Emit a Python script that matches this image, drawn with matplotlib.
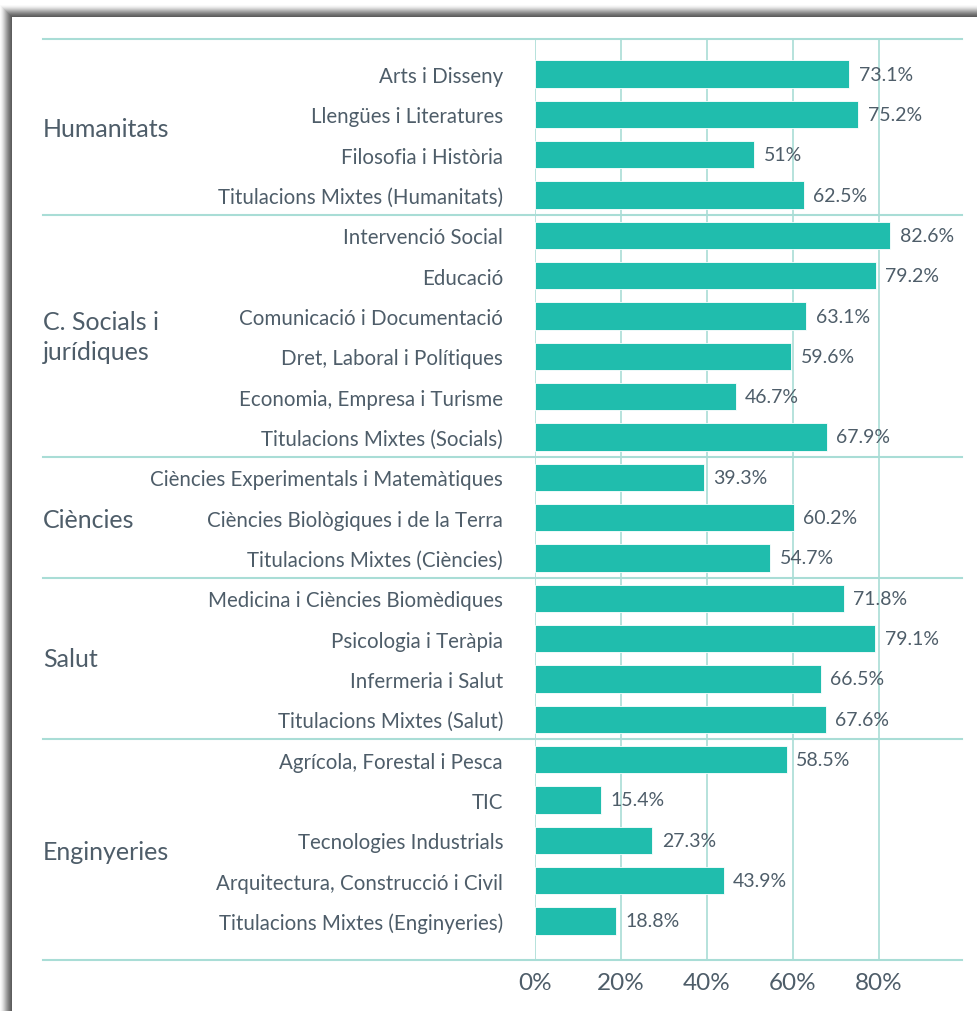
import numpy as np
import matplotlib
matplotlib.use('Agg')
from matplotlib import pyplot as plt
from matplotlib.patches import Rectangle

plt.rcParams['font.family'] = ['Lato', 'DejaVu Sans']

# data
groups = ['Humanitats', 'C. Socials i\njurídiques', 'Ciències', 'Salut', 'Enginyeries']
group_sizes = [4, 6, 3, 4, 5]
categories = [
    'Arts i Disseny', 'Llengües i Literatures', 'Filosofia i Història',
    'Titulacions Mixtes (Humanitats)',
    'Intervenció Social', 'Educació', 'Comunicació i Documentació',
    'Dret, Laboral i Polítiques', 'Economia, Empresa i Turisme',
    'Titulacions Mixtes (Socials)',
    'Ciències Experimentals i Matemàtiques', 'Ciències Biològiques i de la Terra',
    'Titulacions Mixtes (Ciències)',
    'Medicina i Ciències Biomèdiques', 'Psicologia i Teràpia', 'Infermeria i Salut',
    'Titulacions Mixtes (Salut)',
    'Agrícola, Forestal i Pesca', 'TIC', 'Tecnologies Industrials',
    'Arquitectura, Construcció i Civil', 'Titulacions Mixtes (Enginyeries)',
]
values = [73.1, 75.2, 51, 62.5,
          82.6, 79.2, 63.1, 59.6, 46.7, 67.9,
          39.3, 60.2, 54.7,
          71.8, 79.1, 66.5, 67.6,
          58.5, 15.4, 27.3, 43.9, 18.8]
xticks = [0, 20, 40, 60, 80]
xtick_labels = ['0%', '20%', '40%', '60%', '80%']

teal = '#20BDAD'
line_c = '#A9DDD6'
text_c = '#4E5D69'

W, H = 977, 1012
fig = plt.figure(figsize=(W / 100, H / 100), dpi=100, facecolor='white')

# screenshot frame with soft shadow
for i, a in enumerate(np.linspace(0.05, 0.6, 12)):
    off = 12 - i
    fig.patches.append(Rectangle(((12 - off) / W, 0), 1, (H - 18 + off) / H,
                                 transform=fig.transFigure, facecolor='#444444',
                                 alpha=a * 0.45, edgecolor='none', zorder=-10))
fig.patches.append(Rectangle((12 / W, 0), 1, (H - 18) / H, transform=fig.transFigure,
                             facecolor='white', edgecolor='none', zorder=-9))

ax = fig.add_axes([535 / W, 1 - 961 / H, 430 / W, 921 / H])
ax.set_facecolor('none')
y = np.arange(len(categories))
ax.barh(y, values, height=0.68, color=teal, edgecolor='white', linewidth=0.6, zorder=3)
ax.set_xlim(0, 100)
ax.set_ylim(21.97, -0.87)

for xv in xticks:
    ax.axvline(xv, color=line_c, lw=1.2, zorder=1)

# group separators extending to the left
seps = np.concatenate([[-0.87], np.cumsum(group_sizes)[:-1] - 0.5, [21.97]])
for s in seps:
    ax.plot([-114.5, 99.3], [s, s], color=line_c, lw=1.5, clip_on=False, zorder=2)

ax.set_yticks(y)
ax.set_yticklabels(categories, fontsize=14.8, color=text_c)
ax.set_xticks(xticks)
ax.set_xticklabels(xtick_labels, fontsize=17.5, color=text_c)
ax.tick_params(length=0)
ax.tick_params(axis='y', pad=23)
ax.tick_params(axis='x', pad=9)
for sp in ax.spines.values():
    sp.set_visible(False)

for yi, v in zip(y, values):
    lab = ('%g' % v) + '%'
    ax.text(v + 2.2, yi, lab, va='center', ha='left', fontsize=14, color=text_c, zorder=4)

group_y = [1.34, 6.5, 11.05, 14.5, 19.29]
for g, gy in zip(groups, group_y):
    ax.text(-114.5, gy, g, ha='left', va='center', fontsize=18, color=text_c,
            linespacing=1.35, clip_on=False)

fig.savefig('out.png', dpi=100, facecolor='white')
